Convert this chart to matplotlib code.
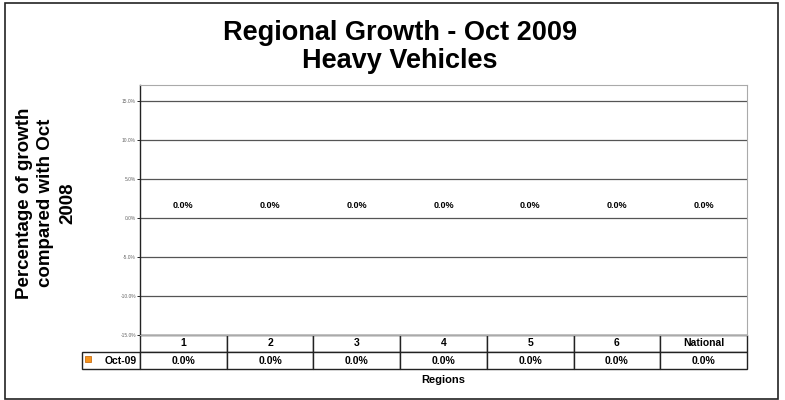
import matplotlib
matplotlib.use('Agg')
import matplotlib.pyplot as plt
from matplotlib.patches import Rectangle
from matplotlib.ticker import FuncFormatter

plt.rcParams['font.family'] = ['Liberation Sans', 'DejaVu Sans']

regions = ['1', '2', '3', '4', '5', '6', 'National']
growth = [0.0, 0.0, 0.0, 0.0, 0.0, 0.0, 0.0]   # Oct-09, fraction
series_name = 'Oct-09'
bar_color = '#f7941d'
yticks = [-0.15, -0.10, -0.05, 0.0, 0.05, 0.10, 0.15]

fig = plt.figure(figsize=(7.85, 4.0), dpi=100)
fig.patch.set_facecolor('white')
fig.patches.append(Rectangle((5 / 785, 1 / 400), 773 / 785, 396 / 400,
                             transform=fig.transFigure, fill=False,
                             edgecolor='#222222', linewidth=1.2))

ax = fig.add_axes([140 / 785, 65 / 400, 607 / 785, 250 / 400])
x = list(range(len(regions)))
ax.bar(x, growth, width=0.5, color=bar_color, linewidth=0)
ax.set_xlim(-0.5, len(regions) - 0.5)
ax.set_ylim(-0.15, 0.1705)
ax.set_yticks(yticks)
ax.yaxis.set_major_formatter(FuncFormatter(lambda v, p: '%.1f%%' % (v * 100)))
ax.tick_params(axis='y', labelsize=3.5, labelcolor='#666666', length=2, width=0.6, pad=1)
ax.set_xticks([])
ax.grid(axis='y', color='#555555', linewidth=0.9)
ax.set_axisbelow(True)
for s in ['top', 'right', 'bottom']:
    ax.spines[s].set_color('#aaaaaa')
    ax.spines[s].set_linewidth(0.8)
ax.spines['left'].set_color('#222222')
ax.spines['left'].set_linewidth(1.0)

for xi, v in zip(x, growth):
    ax.annotate('%.1f%%' % (v * 100), (xi, v), xytext=(0, 6), textcoords='offset points',
                ha='center', va='bottom', fontsize=6.5, fontweight='bold')

# data table under the axis
lw = 58 / 607
cells = [[''] + regions, [series_name] + ['%.1f%%' % (v * 100) for v in growth]]
col_w = [lw] + [1 / len(regions)] * len(regions)
tbl = ax.table(cellText=cells, colWidths=col_w, cellLoc='center',
               bbox=[-lw, -34 / 250, 1 + lw, 34 / 250])
tbl.auto_set_font_size(False)
for (r, c), cell in tbl.get_celld().items():
    cell.set_linewidth(1.0)
    cell.set_edgecolor('#222222')
    cell.get_text().set_fontsize(7.5)
    cell.get_text().set_fontweight('bold')
tbl[0, 0].visible_edges = ''
tbl[1, 0].get_text().set_ha('right')
tbl[1, 0].PAD = 0.06
ax.scatter([-lw + 6 / 607], [-24 / 250], s=20, marker='s', color=bar_color,
           edgecolor='#c06000', linewidth=0.5, transform=ax.transAxes, clip_on=False, zorder=5)

fig.text(443 / 785, 1 - 380 / 400, 'Regions', ha='center', va='center',
         fontsize=8, fontweight='bold')
fig.text(400 / 785, 1 - 47 / 400, 'Regional Growth - Oct 2009\nHeavy Vehicles',
         ha='center', va='center', fontsize=19.5, fontweight='bold', linespacing=1.05)
fig.text(46 / 785, 1 - 203 / 400, 'Percentage of growth\ncompared with Oct\n2008',
         ha='center', va='center', rotation=90, fontsize=13.5, fontweight='bold',
         linespacing=1.35)

fig.savefig('out.png', dpi=100)
